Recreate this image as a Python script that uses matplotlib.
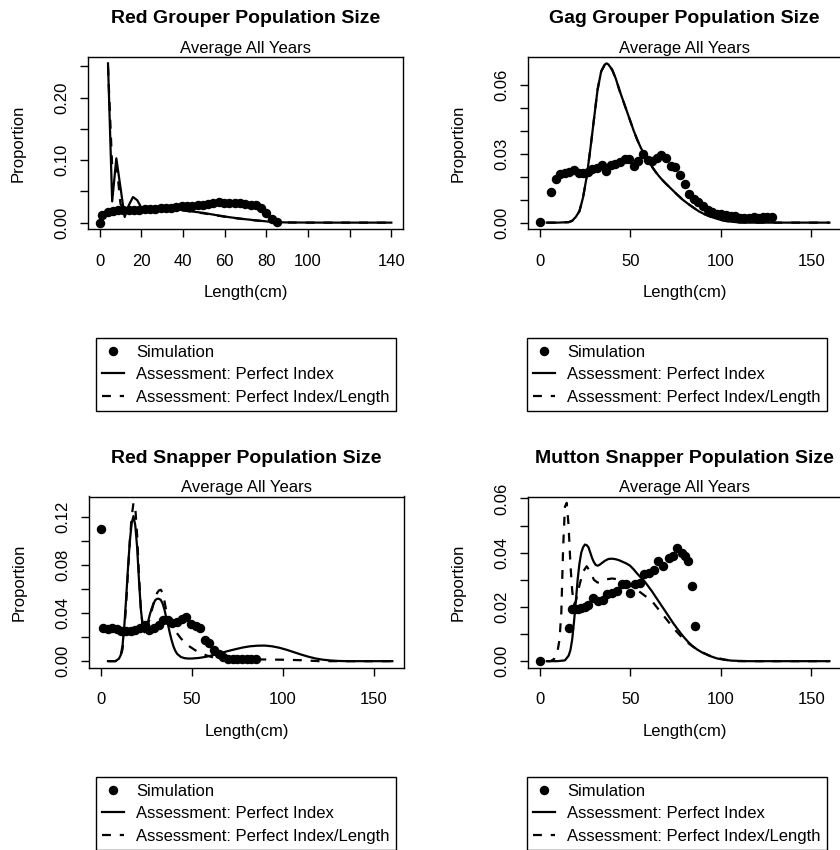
import matplotlib
matplotlib.use("Agg")
import matplotlib.pyplot as plt

plt.rcParams['font.family'] = ['Liberation Sans', 'DejaVu Sans']
plt.rcParams['font.size'] = 12

# ---------------- data ----------------
series_labels = ['Simulation', 'Assessment: Perfect Index', 'Assessment: Perfect Index/Length']

# Red Grouper
rg_sim_x = [0, 1.3, 3.8, 6.4, 8.9, 11.4, 14.0, 16.5, 19.1, 21.6, 24.1, 26.7, 29.2, 31.8, 34.3, 36.8, 39.4,
            41.9, 44.5, 47.0, 49.5, 52.1, 54.6, 57.2, 59.7, 62.2, 64.8, 67.3, 69.9, 72.4, 74.9, 77.5, 80.0,
            82.6, 85.1]
rg_sim_y = [0.000, 0.012, 0.017, 0.019, 0.020, 0.020, 0.020, 0.021, 0.021, 0.022, 0.022, 0.022, 0.023,
            0.024, 0.023, 0.025, 0.027, 0.027, 0.027, 0.028, 0.029, 0.030, 0.031, 0.033, 0.032, 0.031,
            0.032, 0.031, 0.030, 0.029, 0.028, 0.024, 0.015, 0.006, 0.0005]
rg_pi_x = [4, 6, 8, 12, 14, 16, 18, 20, 22, 24, 26, 28, 30, 32, 34, 36, 38, 44, 50, 56, 62, 68, 74, 80,
           84, 90, 100, 110, 120, 130, 140]
rg_pi_y = [0.255, 0.034, 0.103, 0.009, 0.028, 0.041, 0.036, 0.024, 0.021, 0.021, 0.021, 0.0215, 0.022,
           0.022, 0.022, 0.0215, 0.021, 0.018, 0.0155, 0.012, 0.0088, 0.0062, 0.004, 0.002, 0.0008, 0.0003,
           0.0001, 0, 0, 0, 0]
rg_pil_x = [4, 6, 8, 10, 12, 14, 16, 18, 20, 24, 28, 32, 36, 40, 44, 50, 56, 62, 68, 74, 80, 84, 90,
            100, 120, 140]
rg_pil_y = [0.250, 0.090, 0.096, 0.030, 0.018, 0.020, 0.021, 0.021, 0.021, 0.021, 0.0215, 0.022, 0.021,
            0.0195, 0.0175, 0.0148, 0.0115, 0.0085, 0.006, 0.0038, 0.0018, 0.0007, 0.0002, 0, 0, 0]

# Gag Grouper
gag_sim_x = [0, 6.4, 8.9, 11.4, 14.0, 16.5, 19.1, 21.6, 24.1, 26.7, 29.2, 31.8, 34.3, 36.8, 39.4, 41.9,
             44.5, 47.0, 49.5, 52.1, 54.6, 57.2, 59.7, 62.2, 64.8, 67.3, 69.9, 72.4, 74.9, 77.5, 80.0,
             82.6, 85.1, 87.6, 90.2, 92.7, 95.3, 97.8, 100.3, 102.9, 105.4, 108.0, 110.5, 113.0, 115.6,
             118.1, 120.7, 123.2, 125.7, 128.3]
gag_sim_y = [0.0003, 0.0134, 0.019, 0.0214, 0.0218, 0.0222, 0.0229, 0.0218, 0.0218, 0.022, 0.0236,
             0.024, 0.025, 0.0226, 0.025, 0.0255, 0.0265, 0.0278, 0.0277, 0.0246, 0.027, 0.030, 0.0272,
             0.027, 0.028, 0.0294, 0.028, 0.0246, 0.0244, 0.021, 0.017, 0.0127, 0.0105, 0.009, 0.0071,
             0.0057, 0.0046, 0.0039, 0.0036, 0.0033, 0.003, 0.0028, 0.0022, 0.002, 0.002, 0.0025, 0.002,
             0.0025, 0.0025, 0.0025]
gag_pi_x = [4, 10, 16, 18, 20, 22, 24, 26, 28, 30, 32, 34, 36, 37, 38, 40, 42, 44, 46, 48, 50, 52, 54,
            56, 58, 60, 62, 64, 66, 68, 70, 73, 76, 79, 82, 85, 88, 91, 94, 97, 100, 103, 106, 110, 115,
            130, 145, 160]
gag_pi_y = [0, 0, 0.0002, 0.0008, 0.0025, 0.005, 0.011, 0.020, 0.032, 0.045, 0.058, 0.066, 0.069,
            0.0695, 0.069, 0.0668, 0.063, 0.058, 0.0535, 0.049, 0.0445, 0.040, 0.036, 0.0325, 0.0295,
            0.027, 0.0245, 0.0222, 0.0202, 0.0184, 0.0168, 0.0145, 0.0122, 0.0100, 0.0082, 0.0065,
            0.0049, 0.0037, 0.0027, 0.0019, 0.0012, 0.0007, 0.0004, 0.0001, 0, 0, 0, 0]
gag_pil_x = gag_pi_x
gag_pil_y = gag_pi_y

# Red Snapper
rs_sim_x = [0, 1.3, 3.8, 6.4, 8.9, 11.4, 14.0, 16.5, 19.1, 21.6, 24.1, 26.7, 29.2, 31.8, 34.3, 36.8, 39.4,
            41.9, 44.5, 47.0, 49.5, 52.1, 54.6, 57.2, 59.7, 62.2, 64.8, 67.3, 69.9, 72.4, 74.9, 77.5, 80.0,
            82.6, 85.1]
rs_sim_y = [0.110, 0.0275, 0.027, 0.0275, 0.027, 0.0255, 0.025, 0.025, 0.026, 0.028, 0.030, 0.026, 0.028,
            0.030, 0.034, 0.034, 0.032, 0.033, 0.035, 0.037, 0.031, 0.029, 0.028, 0.018, 0.0155, 0.0097,
            0.0056, 0.0035, 0.002, 0.0015, 0.0014, 0.0014, 0.0014, 0.0014, 0.0014]
rs_pi_x = [4, 8, 10, 11, 12, 13, 14, 15, 16, 17, 18, 19, 20, 21, 22, 23, 24, 25, 26, 27, 28, 29, 30, 31,
           32, 33, 34, 35, 36, 37, 38, 39, 40, 41, 42, 44, 46, 48, 50, 54, 58, 62, 66, 70, 74, 78, 82, 86,
           90, 94, 98, 102, 106, 110, 114, 118, 122, 126, 130, 135, 145, 160]
rs_pi_y = [0, 0, 0.002, 0.005, 0.013, 0.030, 0.053, 0.078, 0.100, 0.115, 0.121, 0.113, 0.095, 0.068,
           0.044, 0.030, 0.024, 0.026, 0.033, 0.039, 0.044, 0.048, 0.051, 0.052, 0.052, 0.051, 0.048,
           0.043, 0.036, 0.030, 0.023, 0.017, 0.012, 0.0085, 0.006, 0.0035, 0.0025, 0.0022, 0.0022,
           0.0027, 0.0037, 0.0052, 0.0068, 0.0085, 0.010, 0.0114, 0.0124, 0.0129, 0.0130, 0.0124, 0.0112,
           0.0095, 0.0075, 0.0055, 0.0037, 0.0022, 0.0012, 0.0006, 0.0002, 0, 0, 0]
rs_pil_x = [4, 8, 10, 11, 12, 13, 14, 15, 16, 17, 18, 19, 20, 21, 22, 23, 24, 25, 26, 27, 28, 29, 30, 31,
            32, 33, 34, 35, 36, 37, 38, 40, 42, 44, 46, 48, 50, 52, 55, 58, 62, 66, 70, 80, 90, 100, 110,
            116, 120, 130, 145, 160]
rs_pil_y = [0, 0, 0.001, 0.004, 0.010, 0.025, 0.048, 0.075, 0.100, 0.120, 0.132, 0.128, 0.105, 0.072,
            0.045, 0.030, 0.025, 0.027, 0.031, 0.036, 0.042, 0.048, 0.053, 0.057, 0.059, 0.0595, 0.057,
            0.050, 0.042, 0.036, 0.032, 0.027, 0.023, 0.019, 0.016, 0.013, 0.011, 0.009, 0.007, 0.0048,
            0.003, 0.0022, 0.0018, 0.0015, 0.0014, 0.0012, 0.0008, 0.0003, 0, 0, 0, 0]

# Mutton Snapper
ms_sim_x = [0, 16.0, 17.8, 19.5, 21.2, 23.0, 24.8, 27.0, 29.7, 32.5, 35.2, 37.4, 39.8, 42.5, 45.3, 47.5,
            50.1, 52.9, 55.6, 57.5, 60.2, 62.9, 65.6, 68.4, 71.2, 73.8, 75.7, 78.4, 80.3, 82.1, 84.0, 85.8]
ms_sim_y = [0, 0.0121, 0.0194, 0.0194, 0.0194, 0.0196, 0.0200, 0.0209, 0.0233, 0.0223, 0.0226, 0.0246,
            0.025, 0.0258, 0.0285, 0.0285, 0.0253, 0.0283, 0.029, 0.032, 0.0326, 0.0338, 0.0369, 0.035,
            0.0381, 0.0387, 0.0418, 0.040, 0.0387, 0.0371, 0.0277, 0.0129]
ms_pi_x = [4, 10, 14, 16, 17, 18, 19, 20, 21, 22, 23, 24, 25, 26, 27, 28, 29, 30, 31, 32, 33, 34, 36, 38,
           40, 42, 44, 46, 48, 50, 52, 54, 56, 58, 60, 62, 64, 66, 68, 70, 72, 74, 76, 78, 80, 82, 84, 87,
           90, 94, 98, 102, 106, 110, 115, 130, 145, 160]
ms_pi_y = [0, 0, 0.0003, 0.002, 0.004, 0.008, 0.0145, 0.022, 0.030, 0.036, 0.040, 0.042, 0.043, 0.0428,
           0.042, 0.040, 0.038, 0.0365, 0.0355, 0.0352, 0.0355, 0.036, 0.037, 0.0377, 0.0378, 0.0376,
           0.0372, 0.0366, 0.036, 0.0352, 0.0338, 0.0322, 0.0308, 0.0294, 0.0276, 0.0258, 0.0238, 0.0218,
           0.0198, 0.0178, 0.0158, 0.0138, 0.012, 0.0102, 0.0086, 0.0071, 0.0058, 0.0043, 0.0031, 0.0019,
           0.001, 0.0005, 0.0002, 0.0001, 0, 0, 0, 0]
ms_pil_x = [4, 6, 8, 10, 11, 12, 13, 14, 15, 16, 17, 18, 19, 20, 22, 24, 26, 28, 30, 32, 34, 36, 38, 40,
            42, 44, 46, 48, 50, 54, 58, 62, 66, 70, 74, 78, 82, 86, 90, 94, 98, 102, 106, 110, 130, 160]
ms_pil_y = [0, 0, 0.0008, 0.004, 0.008, 0.018, 0.042, 0.057, 0.0584, 0.050, 0.036, 0.026, 0.021, 0.022,
            0.028, 0.033, 0.035, 0.033, 0.030, 0.029, 0.0292, 0.030, 0.0303, 0.0305, 0.0303, 0.030, 0.0293,
            0.0285, 0.0278, 0.0262, 0.0242, 0.0222, 0.0188, 0.0155, 0.0121, 0.0092, 0.0067, 0.0047,
            0.0032, 0.002, 0.0012, 0.0006, 0.0002, 0, 0, 0]

# ticks
rg_xticks = [0, 20, 40, 60, 80, 100, 120, 140]
rg_xticklabels = ['0', '20', '40', '60', '80', '100', '', '140']
x160_ticks = [0, 50, 100, 150]
x160_ticklabels = ['0', '50', '100', '150']
rg_yticks = [0, 0.05, 0.10, 0.15, 0.20, 0.25]
rg_yticklabels = ['0.00', '', '0.10', '', '0.20', '']
gag_yticks = [0, 0.01, 0.02, 0.03, 0.04, 0.05, 0.06]
gag_yticklabels = ['0.00', '', '', '0.03', '', '', '0.06']
rs_yticks = [0, 0.02, 0.04, 0.06, 0.08, 0.10, 0.12]
rs_yticklabels = ['0.00', '', '0.04', '', '0.08', '', '0.12']
ms_yticks = [0, 0.01, 0.02, 0.03, 0.04, 0.05, 0.06]
ms_yticklabels = ['0.00', '', '0.02', '', '0.04', '', '0.06']

titles = ['Red Grouper Population Size', 'Gag Grouper Population Size',
          'Red Snapper Population Size', 'Mutton Snapper Population Size']

# ---------------- figure ----------------
W, H = 840, 850
fig = plt.figure(figsize=(W / 100, H / 100), dpi=100)


def rect(l, t, r, b):
    return [l / W, 1 - b / H, (r - l) / W, (b - t) / H]


panels = [
    dict(title=titles[0], rect=rect(88, 57, 403, 229),
         sim=(rg_sim_x, rg_sim_y), pi=(rg_pi_x, rg_pi_y), pil=(rg_pil_x, rg_pil_y),
         xt=rg_xticks, xtl=rg_xticklabels, yt=rg_yticks, ytl=rg_yticklabels, leg=(246, 374.5)),
    dict(title=titles[1], rect=rect(528, 57, 841, 229),
         sim=(gag_sim_x, gag_sim_y), pi=(gag_pi_x, gag_pi_y), pil=(gag_pil_x, gag_pil_y),
         xt=x160_ticks, xtl=x160_ticklabels, yt=gag_yticks, ytl=gag_yticklabels, leg=(677, 374.5)),
    dict(title=titles[2], rect=rect(89, 496.5, 404, 667.5),
         sim=(rs_sim_x, rs_sim_y), pi=(rs_pi_x, rs_pi_y), pil=(rs_pil_x, rs_pil_y),
         xt=x160_ticks, xtl=x160_ticklabels, yt=rs_yticks, ytl=rs_yticklabels, leg=(246, 813.5)),
    dict(title=titles[3], rect=rect(528, 496.5, 841, 667.5),
         sim=(ms_sim_x, ms_sim_y), pi=(ms_pi_x, ms_pi_y), pil=(ms_pil_x, ms_pil_y),
         xt=x160_ticks, xtl=x160_ticklabels, yt=ms_yticks, ytl=ms_yticklabels, leg=(677, 813.5)),
]

for p in panels:
    ax = fig.add_axes(p['rect'])
    h_sim, = ax.plot(*p['sim'], ls='none', marker='o', ms=5.8, color='black')
    h_pi, = ax.plot(*p['pi'], color='black', lw=1.6)
    h_pil, = ax.plot(*p['pil'], color='black', lw=1.6, ls=(0, (4, 4)))
    ax.margins(x=0.04, y=0.04)

    ax.set_xticks(p['xt'])
    ax.set_xticklabels(p['xtl'])
    ax.set_yticks(p['yt'])
    ax.set_yticklabels(p['ytl'], rotation=90, va='center')
    ax.tick_params(axis='both', direction='out', length=5.8, width=1.0, labelsize=12, color='black')
    ax.tick_params(axis='x', pad=12)
    ax.tick_params(axis='y', pad=7.5)
    for s in ax.spines.values():
        s.set_linewidth(1.0)
        s.set_color('black')

    ax.set_xlabel('Length(cm)', fontsize=12)
    ax.xaxis.label.set_va('center')
    ax.xaxis.set_label_coords(0.5, -64 / 172)
    ax.set_ylabel('Proportion', fontsize=12)
    ax.yaxis.label.set_va('center')
    ax.yaxis.set_label_coords(-70 / 315, 0.5)

    ax.set_title('Average All Years', fontsize=12, pad=3)
    ax.text(0.5, 1 + 34 / 172, p['title'], transform=ax.transAxes, ha='center', va='baseline',
            fontsize=14, fontweight='bold')

    cx, cy = p['leg']
    leg = fig.legend([h_sim, h_pi, h_pil], series_labels, loc='center',
                     bbox_to_anchor=(cx / W, 1 - cy / H), frameon=True, fancybox=False,
                     edgecolor='black', framealpha=1, borderpad=0.38, labelspacing=0.45,
                     handlelength=1.32, handletextpad=0.72, borderaxespad=0, fontsize=12)
    leg.get_frame().set_linewidth(1.0)

fig.savefig('out.png', dpi=100)
